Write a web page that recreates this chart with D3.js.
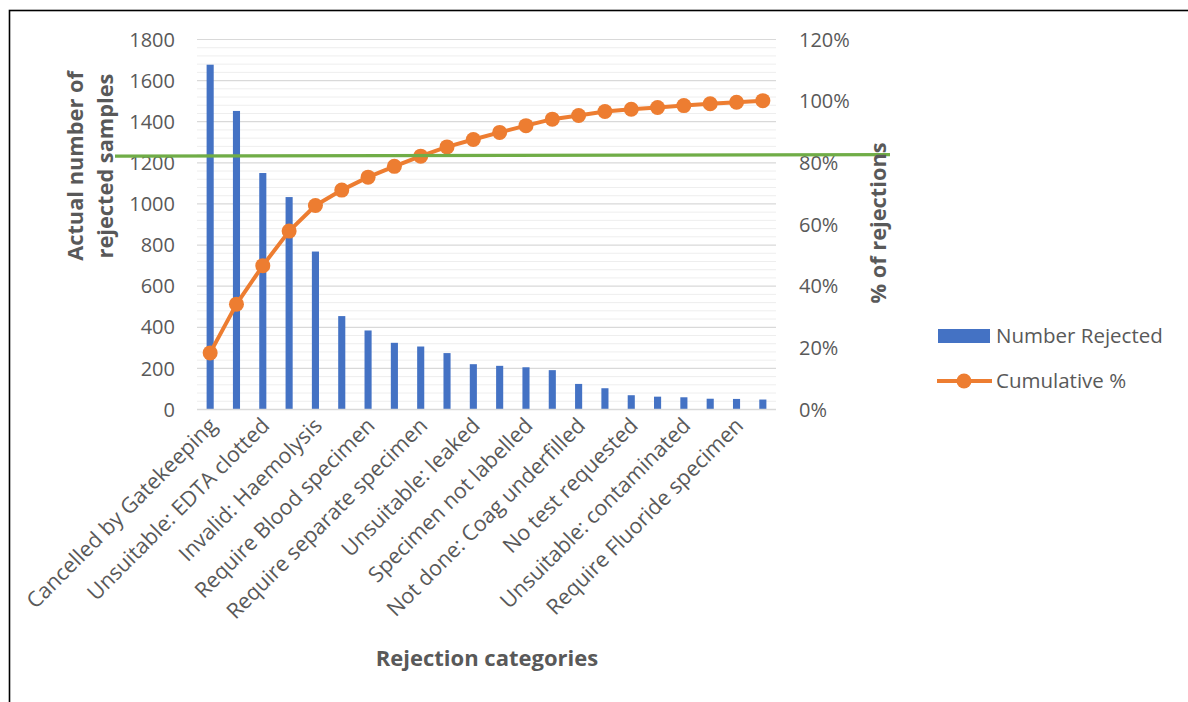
<!DOCTYPE html>
<html>
<head>
<meta charset="utf-8">
<script src="https://cdn.jsdelivr.net/npm/d3@7"></script>
<style>
  html, body { margin: 0; padding: 0; background: #fff; }
  svg { display: block; font-family: "Open Sans", "Noto Sans", sans-serif; }
</style>
</head>
<body>
<svg id="chart" width="1188" height="702"></svg>
<script>
// Rejection categories, sorted by count (the axis only has room for every second name)
const categories = [
  "Cancelled by Gatekeeping", "", "Unsuitable: EDTA clotted", "",
  "Invalid: Haemolysis", "", "Require Blood specimen", "",
  "Require separate specimen", "", "Unsuitable: leaked", "",
  "Specimen not labelled", "", "Not done: Coag underfilled", "",
  "No test requested", "", "Unsuitable: contaminated", "",
  "Require Fluoride specimen", ""
];
// Number of rejected samples per category
const numberRejected = [1675, 1450, 1148, 1031, 766, 452, 382, 322, 304, 272,
                        218, 210, 203, 189, 122, 101, 67, 60, 57, 50, 49, 46];
// Cumulative share of all rejections
const cumulativePct = [0.182, 0.340, 0.465, 0.577, 0.660, 0.710, 0.752, 0.787, 0.820, 0.850,
                       0.874, 0.897, 0.919, 0.940, 0.952, 0.965, 0.972, 0.978, 0.984, 0.990, 0.995, 1.000];
// Axis ticks
const countTicks = [0, 200, 400, 600, 800, 1000, 1200, 1400, 1600, 1800];
const pctTicks = [0, 0.2, 0.4, 0.6, 0.8, 1.0, 1.2];
// Hand-drawn cut-off line (share at its left and right ends)
const cutoffPct = [0.820, 0.825];
const legendItems = ["Number Rejected", "Cumulative %"];

const textColor = "#595959";
const blue = "#4472C4", orange = "#ED7D31", green = "#70AD47";

const svg = d3.select("#chart");
const plot = { left: 197, right: 776, top: 39, bottom: 409 };

// Frame around the figure
svg.append("rect")
  .attr("x", 9.5).attr("y", 10.5).attr("width", 1300).attr("height", 900)
  .attr("fill", "none").attr("stroke", "#000").attr("stroke-width", 1.6);

const x = d3.scaleBand()
  .domain(d3.range(categories.length))
  .range([plot.left, plot.right])
  .paddingInner(0.73).paddingOuter(0.365);
const yCount = d3.scaleLinear().domain([0, 1800]).range([plot.bottom, plot.top]);
const yPct = d3.scaleLinear().domain([0, 1.2]).range([plot.bottom, plot.top]);

// Gridlines: light minor lines every 40, darker major lines every 200
const minor = d3.range(0, 1801, 40).filter(v => v % 200 !== 0);
svg.append("g").selectAll("line").data(minor).join("line")
  .attr("x1", plot.left).attr("x2", plot.right)
  .attr("y1", d => yCount(d) + 0.5).attr("y2", d => yCount(d) + 0.5)
  .attr("stroke", "#eeeeee").attr("stroke-width", 1);
svg.append("g").selectAll("line").data(countTicks.slice(1)).join("line")
  .attr("x1", plot.left).attr("x2", plot.right)
  .attr("y1", d => yCount(d) + 0.5).attr("y2", d => yCount(d) + 0.5)
  .attr("stroke", "#d9d9d9").attr("stroke-width", 1.2);

// Left axis (counts)
const leftAxis = svg.append("g")
  .attr("transform", `translate(${plot.left - 22},0)`)
  .call(d3.axisLeft(yCount).tickValues(countTicks).tickFormat(d3.format("d")).tickSize(0).tickPadding(0));
leftAxis.select(".domain").remove();
leftAxis.selectAll("text").attr("fill", textColor).style("font-size", "20px")
  .style("font-family", "'Open Sans', sans-serif").attr("dy", "0.36em");

// Right axis (percent)
const rightAxis = svg.append("g")
  .attr("transform", `translate(${plot.right + 23},0)`)
  .call(d3.axisRight(yPct).tickValues(pctTicks).tickFormat(d3.format(".0%")).tickSize(0).tickPadding(0));
rightAxis.select(".domain").remove();
rightAxis.selectAll("text").attr("fill", textColor).style("font-size", "20px")
  .style("font-family", "'Open Sans', sans-serif").attr("dy", "0.36em");

// Bars
svg.append("g").selectAll("rect").data(numberRejected).join("rect")
  .attr("x", (d, i) => x(i))
  .attr("width", x.bandwidth())
  .attr("y", d => yCount(d))
  .attr("height", d => yCount(0) - yCount(d))
  .attr("fill", blue);

// Category axis baseline
svg.append("line")
  .attr("x1", plot.left).attr("x2", plot.right)
  .attr("y1", plot.bottom + 0.5).attr("y2", plot.bottom + 0.5)
  .attr("stroke", "#d9d9d9").attr("stroke-width", 1.5);

// Category labels, rotated
const cx = i => x(i) + x.bandwidth() / 2;
svg.append("g").selectAll("text")
  .data(categories.map((c, i) => ({ c, i })).filter(d => d.c))
  .join("text")
  .attr("transform", d => `translate(${cx(d.i) + 8},${plot.bottom + 18}) rotate(-45)`)
  .attr("text-anchor", "end")
  .attr("fill", textColor)
  .style("font-size", "21.5px")
  .text(d => d.c);

// Cumulative % line with markers
const line = d3.line().x((d, i) => cx(i)).y(d => yPct(d));
svg.append("path").datum(cumulativePct)
  .attr("d", line).attr("fill", "none")
  .attr("stroke", orange).attr("stroke-width", 4).attr("stroke-linejoin", "round");
svg.append("g").selectAll("circle").data(cumulativePct).join("circle")
  .attr("cx", (d, i) => cx(i)).attr("cy", d => yPct(d)).attr("r", 7.5)
  .attr("fill", orange);

// Cut-off line across the chart
svg.append("line")
  .attr("x1", plot.left - 82).attr("y1", yPct(cutoffPct[0]))
  .attr("x2", plot.right + 114).attr("y2", yPct(cutoffPct[1]))
  .attr("stroke", green).attr("stroke-width", 3.2);

// Axis titles
const leftTitle = svg.append("text")
  .attr("transform", "translate(83,166) rotate(-90)")
  .attr("text-anchor", "middle").attr("fill", textColor)
  .style("font-size", "21.8px").style("font-weight", "bold");
leftTitle.append("tspan").attr("x", 0).attr("dy", 0).text("Actual number of");
leftTitle.append("tspan").attr("x", 0).attr("dy", 30).text("rejected samples");

svg.append("text")
  .attr("transform", "translate(886,223) rotate(-90)")
  .attr("text-anchor", "middle").attr("fill", textColor)
  .style("font-size", "21.8px").style("font-weight", "bold")
  .text("% of rejections");

svg.append("text")
  .attr("x", 487).attr("y", 666)
  .attr("text-anchor", "middle").attr("fill", textColor)
  .style("font-size", "22px").style("font-weight", "bold")
  .text("Rejection categories");

// Legend
const legend = svg.append("g");
legend.append("rect").attr("x", 938).attr("y", 329).attr("width", 52).attr("height", 14).attr("fill", blue);
legend.append("line").attr("x1", 937).attr("x2", 992).attr("y1", 381).attr("y2", 381)
  .attr("stroke", orange).attr("stroke-width", 4);
legend.append("circle").attr("cx", 964).attr("cy", 381).attr("r", 7.5).attr("fill", orange);
legend.selectAll("text").data(legendItems).join("text")
  .attr("x", 996).attr("y", (d, i) => 336 + i * 45).attr("dy", "0.36em")
  .attr("fill", textColor).style("font-size", "20.5px")
  .text(d => d);
</script>
</body>
</html>
